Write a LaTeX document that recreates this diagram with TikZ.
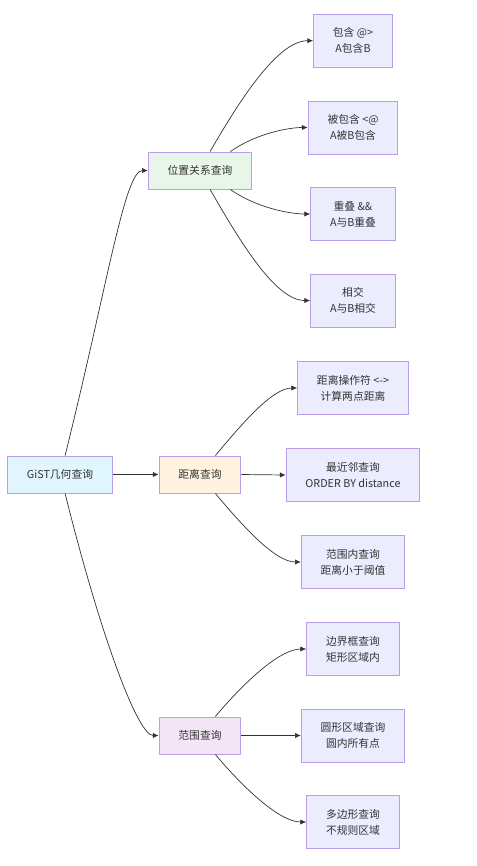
\documentclass[tikz,border=0pt]{standalone}
\usepackage{fontspec}
\newfontfamily\cjk{Noto Sans CJK SC}
\usepackage{tikz}
\usetikzlibrary{arrows.meta}
\definecolor{edgegray}{HTML}{333333}
\definecolor{boxline}{HTML}{B99EE8}
\definecolor{rootfill}{HTML}{E1F5FE}
\definecolor{posfill}{HTML}{E8F5E9}
\definecolor{distfill}{HTML}{FFF3E0}
\definecolor{rangefill}{HTML}{F3E5F5}
\definecolor{leaffill}{HTML}{ECECFF}

\begin{document}
\begin{tikzpicture}[x=0.03cm, y=-0.03cm,
    box/.style={draw=boxline, line width=0.8pt, text=edgegray, align=center,
        font=\cjk\fontsize{9.2pt}{13.6pt}\selectfont,
        inner xsep=0.58cm, minimum height=1.11cm},
    leaf/.style={box, fill=leaffill, minimum height=1.59cm},
    link/.style={draw=edgegray, line width=0.6pt, -{Latex[length=5pt,width=4.5pt]}}]
    \useasboundingbox (0,0) rectangle (477,866);

    \node[box, fill=rootfill] (gist) at (60,474.5) {GiST几何查询};
    \node[box, fill=posfill] (pos) at (200,170.5) {位置关系查询};
    \node[box, fill=distfill] (dist) at (200,474.5) {距离查询};
    \node[box, fill=rangefill] (rng) at (200,735.5) {范围查询};

    \node[leaf] (contain) at (353,40.7) {包含 @>\\A包含B};
    \node[leaf] (within) at (353,127.5) {被包含 <@\\A被B包含};
    \node[leaf] (overlap) at (353,214) {重叠 \&\&\\A与B重叠};
    \node[leaf] (cross) at (353,300.5) {相交\\A与B相交};
    \node[leaf] (distop) at (353,388) {距离操作符 <->\\计算两点距离};
    \node[leaf] (knn) at (353,475) {最近邻查询\\ORDER BY distance};
    \node[leaf] (radius) at (353,562) {范围内查询\\距离小于阈值};
    \node[leaf] (bbox) at (353,649) {边界框查询\\矩形区域内};
    \node[leaf] (circ) at (353,735.5) {圆形区域查询\\圆内所有点};
    \node[leaf] (poly) at (353,822) {多边形查询\\不规则区域};

    \draw[link] (gist.75) to[out=76, in=180, out looseness=1.5, in looseness=0.2] (pos.west);
    \draw[link] (gist.east) -- (dist.west);
    \draw[link] (gist.-75) to[out=-76, in=180, out looseness=1.5, in looseness=0.2] (rng.west);

    \draw[link] (pos.62) to[out=60, in=180, in looseness=0.6] (contain.west);
    \draw[link] (pos.32) to[out=35, in=180, in looseness=0.6] (within.west);
    \draw[link] (pos.-32) to[out=-35, in=180, in looseness=0.6] (overlap.west);
    \draw[link] (pos.-62) to[out=-60, in=180, in looseness=0.6] (cross.west);

    \draw[link] (dist.51) to[out=50, in=180, in looseness=0.6] (distop.west);
    \draw[link] (dist.east) -- (knn.west);
    \draw[link] (dist.-51) to[out=-50, in=180, in looseness=0.6] (radius.west);

    \draw[link] (rng.51) to[out=50, in=180, in looseness=0.6] (bbox.west);
    \draw[link] (rng.east) -- (circ.west);
    \draw[link] (rng.-51) to[out=-50, in=180, in looseness=0.6] (poly.west);
\end{tikzpicture}
\end{document}
